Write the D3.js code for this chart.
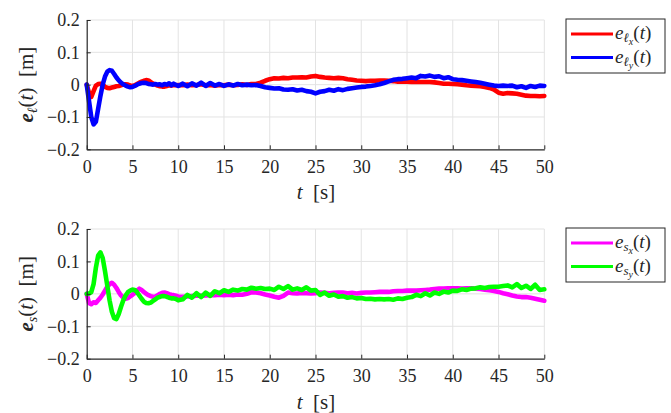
<!DOCTYPE html>
<html><head><meta charset="utf-8">
<script src="https://cdn.jsdelivr.net/npm/d3@7"></script>
<style>
body{margin:0;background:#fff;}
svg{display:block;}
</style></head>
<body><svg id="c" width="671" height="413" font-family="Liberation Serif"></svg>
<script>
// ---- data ----
const tFine = d3.range(0, 10.0001, 0.25);
const tCoarse = d3.range(10.5, 50.0001, 0.5);
const time = tFine.concat(tCoarse);

const xTicks = [0, 5, 10, 15, 20, 25, 30, 35, 40, 45, 50];
const yTicks = [-0.2, -0.1, 0, 0.1, 0.2];

const eLx = [0,-0.025,-0.038,-0.02,-0.003,0.002,0.003,0,-0.007,-0.01,-0.011,-0.009,-0.007,-0.005,-0.004,-0.002,0,0.001,0,-0.003,-0.004,-0.002,0.002,0.006,0.009,0.012,0.014,0.013,0.008,0.003,0,-0.003,-0.005,-0.006,-0.006,-0.004,-0.002,-0.003,-0.001,-0.002,-0.001,
 -0.002,0,-0.002,-0.001,0.001,-0.002,-0.001,-0.003,-0.001,-0.002,0,-0.002,-0.001,0.001,-0.001,0.002,0.002,0.006,0.012,0.017,0.02,0.019,0.021,0.02,0.022,0.022,0.023,0.022,0.025,0.027,0.024,0.022,0.021,0.02,0.021,0.02,0.017,0.015,0.013,0.012,0.011,0.012,0.012,0.013,0.013,0.012,0.011,0.009,0.009,0.009,0.008,0.009,0.008,0.008,0.008,0.007,0.005,0.003,0.003,0.002,0.001,0,-0.002,-0.003,-0.004,-0.005,-0.007,-0.01,-0.015,-0.025,-0.028,-0.026,-0.027,-0.028,-0.031,-0.034,-0.035,-0.035,-0.036,-0.035];
const eLy = [0,-0.05,-0.1,-0.123,-0.115,-0.075,-0.035,0,0.025,0.04,0.045,0.043,0.033,0.022,0.013,0.006,0.001,-0.003,-0.006,-0.008,-0.007,-0.004,0,0.003,0.005,0.006,0.005,0.002,0.001,0,0.002,0,0.001,-0.002,0.002,0,0.004,-0.002,0.003,-0.001,-0.004,
 0.003,-0.005,0.004,-0.003,0.006,-0.004,0.005,-0.003,0.002,-0.004,0.001,-0.003,0.002,-0.002,0,-0.002,-0.001,-0.004,-0.008,-0.01,-0.012,-0.011,-0.015,-0.016,-0.014,-0.018,-0.016,-0.02,-0.022,-0.027,-0.022,-0.02,-0.016,-0.019,-0.014,-0.017,-0.013,-0.011,-0.009,-0.007,-0.006,-0.004,-0.002,0.001,0.005,0.01,0.015,0.017,0.018,0.02,0.022,0.02,0.027,0.025,0.028,0.024,0.026,0.02,0.023,0.017,0.015,0.014,0.012,0.01,0.008,0.006,0.003,0,-0.003,-0.004,-0.003,-0.004,-0.003,-0.008,-0.005,-0.01,-0.004,-0.007,-0.003,-0.004];
const eSx = [0,-0.028,-0.032,-0.026,-0.028,-0.02,-0.012,-0.002,0.01,0.022,0.03,0.034,0.028,0.018,0.006,-0.005,-0.012,-0.015,-0.013,-0.008,-0.003,0.003,0.01,0.016,0.012,0.006,0,-0.004,-0.007,-0.009,-0.008,-0.004,0,0.003,0.004,0.002,-0.001,-0.003,-0.004,-0.006,-0.008,
 -0.009,-0.008,-0.007,-0.006,-0.006,-0.005,-0.004,-0.004,-0.003,-0.004,-0.003,-0.004,-0.002,-0.003,0,0.005,0.004,0.002,-0.002,-0.005,-0.009,-0.012,-0.006,0.004,0.002,0.001,0.003,0.002,0.001,0.002,0.004,0.003,0.002,0.003,0.004,0.004,0.002,0.003,0.001,0.003,0.004,0.004,0.005,0.006,0.006,0.006,0.008,0.009,0.009,0.01,0.01,0.01,0.011,0.012,0.013,0.015,0.016,0.016,0.017,0.017,0.017,0.016,0.017,0.017,0.016,0.015,0.013,0.011,0.009,0.006,0.002,-0.001,-0.005,-0.008,-0.01,-0.01,-0.012,-0.015,-0.018,-0.021];
const eSy = [0,0.001,0.005,0.03,0.08,0.118,0.128,0.11,0.07,0.025,-0.02,-0.055,-0.075,-0.078,-0.062,-0.04,-0.02,-0.005,0.005,0.01,0.013,0.012,0.005,-0.005,-0.015,-0.024,-0.028,-0.029,-0.027,-0.022,-0.017,-0.012,-0.009,-0.007,-0.007,-0.009,-0.012,-0.014,-0.014,-0.016,-0.02,
 -0.017,-0.003,-0.012,0.002,-0.01,0.004,-0.006,0.008,0.002,0.011,0.006,0.013,0.01,0.015,0.013,0.019,0.016,0.018,0.015,0.016,0.012,0.022,0.015,0.024,0.013,0.017,0.012,0.02,0.01,0.012,-0.003,0.004,-0.006,-0.002,-0.009,-0.007,-0.012,-0.01,-0.014,-0.013,-0.016,-0.015,-0.017,-0.016,-0.017,-0.016,-0.018,-0.014,-0.016,-0.012,-0.01,-0.003,-0.007,0.002,-0.005,0.004,0,0.007,0.004,0.01,0.009,0.014,0.012,0.016,0.017,0.02,0.018,0.021,0.022,0.022,0.024,0.026,0.02,0.03,0.018,0.025,0.015,0.028,0.012,0.014];

// ---- layout ----
const FONT = "Liberation Serif";
const svg = d3.select("#c");
const x = d3.scaleLinear().domain([0, 50]).range([86.7, 544.3]);
const fmtY = d => d === 0 ? "0" : (d < 0 ? "\u2212" : "") + Math.abs(d).toFixed(1);
const gridColor = "#e3e3e3", axisColor = "#262626";

function panel(top, bottom, series, yLabel, legend) {
  const y = d3.scaleLinear().domain([-0.2, 0.2]).range([bottom, top]);
  const g = svg.append("g");
  // grid
  g.append("g").selectAll("line").data(xTicks.slice(1)).join("line")
    .attr("x1", d => x(d)).attr("x2", d => x(d)).attr("y1", top).attr("y2", bottom)
    .attr("stroke", gridColor).attr("stroke-width", 1);
  g.append("g").selectAll("line").data(yTicks.slice(1)).join("line")
    .attr("x1", x(0)).attr("x2", x(50)).attr("y1", d => y(d)).attr("y2", d => y(d))
    .attr("stroke", gridColor).attr("stroke-width", 1);
  // series
  series.forEach(s => {
    const line = d3.line().x((d, i) => x(time[i])).y(d => y(d)).curve(d3.curveLinear);
    g.append("path").datum(s.values).attr("d", line).attr("fill", "none")
      .attr("stroke", s.color).attr("stroke-width", 4.6)
      .attr("stroke-linejoin", "round").attr("stroke-linecap", "round");
  });
  // axes
  const ax = g.append("g").attr("transform", `translate(0,${bottom})`)
    .call(d3.axisBottom(x).tickValues(xTicks).tickSizeInner(-4).tickSizeOuter(0).tickPadding(11).tickFormat(d3.format("d")));
  const ay = g.append("g").attr("transform", `translate(${x(0)},0)`)
    .call(d3.axisLeft(y).tickValues(yTicks).tickSizeInner(-4).tickSizeOuter(0).tickPadding(7).tickFormat(fmtY));
  [ax, ay].forEach(a => {
    a.attr("font-family", FONT).attr("font-size", 18);
    a.select(".domain").attr("stroke", axisColor).attr("stroke-width", 1.2);
    a.selectAll(".tick line").attr("stroke", axisColor);
    a.selectAll(".tick text").attr("font-family", FONT)
      .attr("font-size", 18).attr("fill", axisColor);
  });
  // x label
  const xl = g.append("text").attr("x", 316).attr("y", bottom + 50).attr("font-family", FONT)
    .attr("text-anchor", "middle").attr("font-size", 21).attr("fill", axisColor);
  xl.append("tspan").attr("font-style", "italic").text("t");
  xl.append("tspan").text("\u2002[s]");
  // y label
  const yl = g.append("text").attr("transform", `translate(33,${(top + bottom) / 2}) rotate(-90)`)
    .attr("font-family", FONT)
    .attr("text-anchor", "middle").attr("font-size", 21).attr("fill", axisColor);
  yl.append("tspan").attr("font-style", "italic").attr("font-weight", "bold").text("e");
  yl.append("tspan").attr("font-style", "italic").attr("font-size", 14).attr("dy", 4).text(yLabel);
  yl.append("tspan").attr("dy", -4).text("(");
  yl.append("tspan").attr("font-style", "italic").text("t");
  yl.append("tspan").text(")\u2002[m]");
  // legend
  const lx0 = 566, lx1 = 665, ly0 = top - 1, lh = 54;
  g.append("rect").attr("x", lx0).attr("y", ly0).attr("width", lx1 - lx0).attr("height", lh)
    .attr("fill", "#fff").attr("stroke", axisColor).attr("stroke-width", 1);
  legend.forEach((L, i) => {
    const yy = ly0 + 15 + i * 23.5;
    g.append("line").attr("x1", 571).attr("x2", 613).attr("y1", yy).attr("y2", yy)
      .attr("stroke", L.color).attr("stroke-width", 3.2);
    const t = g.append("text").attr("x", 615).attr("y", yy + 5).attr("font-family", FONT)
      .attr("font-size", 19).attr("fill", axisColor);
    t.append("tspan").attr("font-style", "italic").text("e");
    t.append("tspan").attr("font-style", "italic").attr("font-size", 13).attr("dy", 3).text(L.sub);
    t.append("tspan").attr("font-style", "italic").attr("font-size", 10).attr("dy", 3).text(L.subsub);
    t.append("tspan").attr("dy", -6).text("(");
    t.append("tspan").attr("font-style", "italic").text("t");
    t.append("tspan").text(")");
  });
}

panel(20, 149.3,
  [{values: eLx, color: "#ff0000"}, {values: eLy, color: "#0000ff"}],
  "\u2113",
  [{color: "#ff0000", sub: "\u2113", subsub: "x"}, {color: "#0000ff", sub: "\u2113", subsub: "y"}]);
panel(229, 358.7,
  [{values: eSx, color: "#ff00ff"}, {values: eSy, color: "#00ff00"}],
  "s",
  [{color: "#ff00ff", sub: "s", subsub: "x"}, {color: "#00ff00", sub: "s", subsub: "y"}]);
</script></body></html>
